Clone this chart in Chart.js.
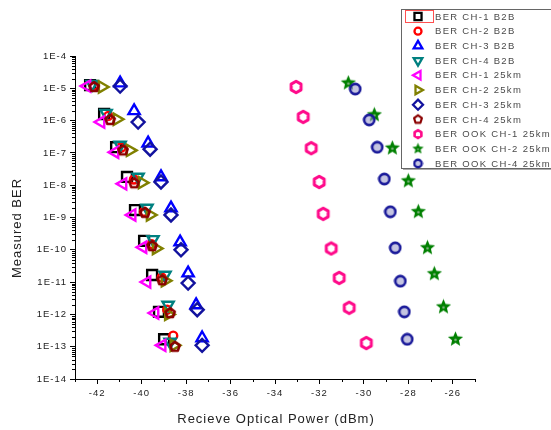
<!DOCTYPE html>
<html><head><meta charset="utf-8">
<script src="https://cdn.jsdelivr.net/npm/chart.js@4/dist/chart.umd.min.js"></script>
<style>html,body{margin:0;padding:0;background:#fff}#wrap{width:551px;height:430px}</style>
</head><body><div id="wrap"><canvas id="c" width="551" height="430"></canvas></div>
<script>
// ---- data ----
const seriesNames = ["BER CH-1 B2B","BER CH-2 B2B","BER CH-3 B2B","BER CH-4 B2B","BER CH-1 25km","BER CH-2 25km","BER CH-3 25km","BER CH-4 25km","BER OOK CH-1 25km","BER OOK CH-2 25km","BER OOK CH-4 25km"];
const ch1B2B_x = [-42.32,-41.69,-41.15,-40.66,-40.30,-39.89,-39.53,-39.22,-38.99];
const ch1B2B_y = [1.26e-5,1.6e-6,1.5e-7,1.8e-8,1.7e-9,1.9e-10,1.66e-11,1.2e-12,1.7e-13];
const ch2B2B_x = [-42.15,-41.5,-40.9,-40.35,-39.9,-39.55,-39.1,-38.85,-38.58];
const ch2B2B_y = [1.2e-5,1.4e-6,1.5e-7,1.5e-8,1.5e-9,1.5e-10,1.4e-11,1.4e-12,2.2e-13];
const ch3B2B_x = [-40.97,-40.34,-39.71,-39.13,-38.68,-38.27,-37.91,-37.55,-37.28];
const ch3B2B_y = [1.45e-5,2.0e-6,2.0e-7,1.8e-8,1.96e-9,1.74e-10,1.9e-11,1.96e-12,1.86e-13];
const ch4B2B_x = [-42.23,-41.6,-40.97,-40.16,-39.76,-39.49,-38.95,-38.81,-38.72];
const ch4B2B_y = [1.35e-5,1.7e-6,1.75e-7,1.8e-8,1.96e-9,2.1e-10,1.66e-11,1.96e-12,1.4e-13];
const ch1Km_x = [-42.46,-41.83,-41.2,-40.84,-40.43,-39.94,-39.76,-39.4,-39.08];
const ch1Km_y = [1.17e-5,9e-7,1.05e-7,1.1e-8,1.2e-9,1.2e-10,1e-11,1.1e-12,1.1e-13];
const ch2Km_x = [-41.78,-41.11,-40.52,-39.98,-39.62,-39.35,-38.95,-38.8,-38.55];
const ch2Km_y = [1.1e-5,1.1e-6,1.2e-7,1.2e-8,1.2e-9,1.1e-10,1.1e-11,1e-12,1.1e-13];
const ch3Km_x = [-40.97,-40.16,-39.62,-39.13,-38.68,-38.23,-37.91,-37.5,-37.28];
const ch3Km_y = [1.17e-5,9e-7,1.3e-7,1.26e-8,1.2e-9,1e-10,9.3e-12,1.4e-12,1.1e-13];
const ch4Km_x = [-42.14,-41.42,-40.84,-40.34,-39.85,-39.53,-39.08,-38.72,-38.5];
const ch4Km_y = [1.1e-5,1.05e-6,1.2e-7,1.15e-8,1.4e-9,1.3e-10,1.15e-11,1.1e-12,1e-13];
const ook1_x = [-33.05,-32.73,-32.37,-32.01,-31.83,-31.47,-31.11,-30.66,-29.89];
const ook1_y = [1.1e-5,1.3e-6,1.4e-7,1.26e-8,1.3e-9,1.1e-10,1.35e-11,1.6e-12,1.3e-13];
const ook2_x = [-30.7,-29.53,-28.72,-28.0,-27.55,-27.14,-26.83,-26.42,-25.88];
const ook2_y = [1.45e-5,1.5e-6,1.4e-7,1.35e-8,1.5e-9,1.15e-10,1.8e-11,1.7e-12,1.7e-13];
const ook4_x = [-30.39,-29.76,-29.4,-29.08,-28.81,-28.59,-28.36,-28.18,-28.05];
const ook4_y = [9.5e-6,1.05e-6,1.5e-7,1.55e-8,1.5e-9,1.15e-10,1.07e-11,1.2e-12,1.7e-13];
const xTickValues = [-42,-40,-38,-36,-34,-32,-30,-28,-26];
const yTickExponents = [-4,-5,-6,-7,-8,-9,-10,-11,-12,-13,-14];

// ---- custom marker images ----
function shapeCanvas(kind, size, color, lw){
  const c=document.createElement('canvas'); c.width=c.height=size;
  const g=c.getContext('2d'); const cx=size/2, cy=size/2;
  g.lineJoin='round';
  if(kind==='hex'||kind==='pent'){
    const n = kind==='hex'?6:5; const r = size/2-lw/2-0.8;
    g.beginPath();
    for(let k=0;k<n;k++){const a=-Math.PI/2+k*2*Math.PI/n; const px=cx+r*Math.cos(a), py=cy+r*Math.sin(a); k?g.lineTo(px,py):g.moveTo(px,py);}
    g.closePath(); g.strokeStyle=color; g.lineWidth=lw; g.stroke();
  } else if(kind==='star'){
    const ro=size/2-0.5, ri=ro*0.45;
    g.beginPath();
    for(let k=0;k<10;k++){const a=-Math.PI/2+k*Math.PI/5; const r=k%2?ri:ro; const px=cx+r*Math.cos(a), py=cy+r*Math.sin(a); k?g.lineTo(px,py):g.moveTo(px,py);}
    g.closePath(); g.fillStyle=color; g.fill();
    g.beginPath(); g.arc(cx,cy+0.5,size>14?1.3:1,0,Math.PI*2); g.fillStyle='#7fb07f'; g.fill();
  } else if(kind==='ring'){
    g.beginPath(); g.arc(cx,cy,size/2-lw/2-0.6,0,Math.PI*2);
    g.fillStyle='rgba(150,150,200,0.55)'; g.fill();
    g.strokeStyle=color; g.lineWidth=lw; g.stroke();
  }
  return c;
}
const pentImg = shapeCanvas('pent',14,'#8b0000',2.6);
const hexImg = shapeCanvas('hex',16,'#ff0a8a',3);
const starImg = shapeCanvas('star',17,'#008000',0);
const ringImg = shapeCanvas('ring',14,'#1a1a9a',2.6);
const pentLeg = shapeCanvas('pent',12,'#8b0000',2.2);
const hexLeg = shapeCanvas('hex',12,'#ff0a8a',2.6);
const starLeg = shapeCanvas('star',13,'#008000',0);
const ringLeg = shapeCanvas('ring',11,'#1a1a9a',2.4);

function pts(xs,ys){return xs.map((x,i)=>({x:x,y:ys[i]}));}
const styles = [
  {d:pts(ch1B2B_x,ch1B2B_y), ps:'rect', r:7, c:'#000000', rot:0},
  {d:pts(ch2B2B_x,ch2B2B_y), ps:'circle', r:4, c:'#ff0000', rot:0},
  {d:pts(ch3B2B_x,ch3B2B_y), ps:'triangle', r:6.5, c:'#0000ff', rot:0},
  {d:pts(ch4B2B_x,ch4B2B_y), ps:'triangle', r:6.5, c:'#008080', rot:180},
  {d:pts(ch1Km_x,ch1Km_y), ps:'triangle', r:6.5, c:'#ff00ff', rot:270},
  {d:pts(ch2Km_x,ch2Km_y), ps:'triangle', r:6.5, c:'#808000', rot:90},
  {d:pts(ch3Km_x,ch3Km_y), ps:'rectRot', r:6.5, c:'#12129e', rot:0},
  {d:pts(ch4Km_x,ch4Km_y), ps:pentImg, r:7, c:'#8b0000', rot:0, leg:pentLeg},
  {d:pts(ook1_x,ook1_y), ps:hexImg, r:8, c:'#ff0a8a', rot:0, leg:hexLeg},
  {d:pts(ook2_x,ook2_y), ps:starImg, r:8, c:'#008000', rot:0, leg:starLeg},
  {d:pts(ook4_x,ook4_y), ps:ringImg, r:7, c:'#1a1a9a', rot:0, leg:ringLeg}
];
const datasets = styles.map((s,i)=>({
  label: seriesNames[i], data: s.d, showLine:false,
  pointStyle: s.ps, pointRadius: s.r, pointRotation: s.rot,
  pointBorderColor: s.c, pointBackgroundColor: 'rgba(0,0,0,0)', pointBorderWidth: 2.4,
  pointHoverRadius: s.r, order: styles.length - i
}));

const FONT = '"Liberation Sans", Arial, sans-serif';

const deco = {
  id:'deco',
  beforeDraw(chart){ chart.ctx.letterSpacing='1px'; },
  afterDraw(chart){
    const ctx=chart.ctx, ca=chart.chartArea, xs=chart.scales.x, ys=chart.scales.y;
    ctx.save();
    ctx.letterSpacing='1px';
    ctx.strokeStyle='#000'; ctx.lineWidth=1;
    // minor ticks
    ctx.beginPath();
    for(let e=-14;e<-4;e++){ for(let m=2;m<=9;m++){ const y=Math.round(ys.getPixelForValue(m*Math.pow(10,e)))+0.5; ctx.moveTo(ca.left-3,y); ctx.lineTo(ca.left,y);} }
    for(let v=-43; v<=-25; v+=2){ const x=Math.round(xs.getPixelForValue(v))+0.5; ctx.moveTo(x,ca.bottom); ctx.lineTo(x,ca.bottom+3);} 
    ctx.stroke();
    // axis titles
    ctx.fillStyle='#222'; ctx.font='13px '+FONT; ctx.textAlign='center'; ctx.textBaseline='middle';
    ctx.fillText('Recieve Optical Power (dBm)', 276, 419);
    ctx.save(); ctx.translate(17,228); ctx.rotate(-Math.PI/2); ctx.fillText('Measured BER',0,0); ctx.restore();
    // legend box
    const L=401, T=9, B=168;
    ctx.fillStyle='#fff'; ctx.fillRect(L,T,551-L,B-T);
    ctx.strokeStyle='#666'; ctx.lineWidth=1; ctx.strokeRect(L+0.5,T+0.5,560-L,B-T);
    ctx.strokeStyle='#aaa'; ctx.beginPath(); ctx.moveTo(L+2,B+1.5); ctx.lineTo(551,B+1.5); ctx.stroke();
    const rowH=14.7;
    ctx.font='9.5px '+FONT; ctx.textAlign='left'; ctx.textBaseline='middle';
    ctx.letterSpacing='1.3px';
    styles.forEach((s,i)=>{
      const cy=16.5+i*rowH;
      ctx.save();
      ctx.strokeStyle=s.c; ctx.fillStyle='rgba(0,0,0,0)'; ctx.lineWidth=2.3;
      Chart.helpers.drawPoint(ctx,{pointStyle:s.leg||s.ps, rotation:s.rot, radius:s.ps==='circle'?3.5:5, borderWidth:2.3}, 418, cy);
      ctx.restore();
      ctx.fillStyle='#4a4a4a'; ctx.fillText(seriesNames[i], 435, cy+0.5);
    });
    ctx.strokeStyle='#ff5050'; ctx.lineWidth=1; ctx.strokeRect(405.5,10.5,28,12);
    ctx.restore();
  }
};

new Chart(document.getElementById('c'), {
  type:'scatter',
  data:{datasets},
  options:{
    responsive:false, animation:false, devicePixelRatio:1,
    layout:{padding:{top:56,right:76,left:0,bottom:0}},
    plugins:{legend:{display:false}, tooltip:{enabled:false}},
    scales:{
      x:{type:'linear', min:-43, max:-25,
        afterBuildTicks(sc){ sc.ticks = xTickValues.map(v=>({value:v})); },
        afterFit(sc){ sc.height=51; },
        grid:{drawOnChartArea:false, drawTicks:true, tickLength:5, color:'#000', tickColor:'#000'},
        border:{display:true, color:'#000', width:1},
        ticks:{color:'#222', font:{family:FONT,size:9.5}, padding:4, maxRotation:0, autoSkip:false,
          callback:v=>String(v)}
      },
      y:{type:'logarithmic', min:1e-14, max:1e-4,
        afterBuildTicks(sc){ sc.ticks = yTickExponents.map(e=>({value:Math.pow(10,e)})); },
        afterFit(sc){ sc.width=75; },
        grid:{drawOnChartArea:false, drawTicks:true, tickLength:5, color:'#000', tickColor:'#000'},
        border:{display:true, color:'#000', width:1},
        ticks:{color:'#222', font:{family:FONT,size:9.5}, padding:3, autoSkip:false,
          callback:v=>'1E'+Math.round(Math.log10(v))}
      }
    }
  },
  plugins:[deco]
});
</script></body></html>
